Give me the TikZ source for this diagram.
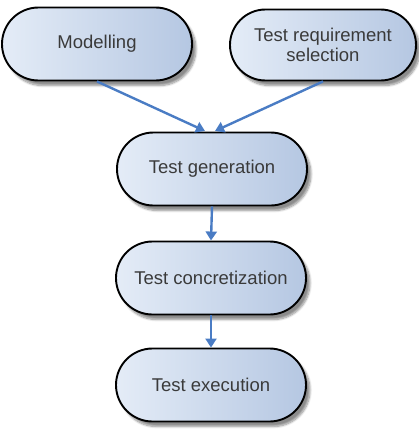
\documentclass[tikz,border=0pt]{standalone}
\usepackage{fontspec}
\setmainfont{Liberation Sans}
\usetikzlibrary{shapes.misc,arrows.meta,shadows.blur}
\definecolor{fillL}{HTML}{E4ECF7}
\definecolor{fillR}{HTML}{B5C7E2}
\definecolor{arrowblue}{HTML}{4A7CC4}
\definecolor{txt}{HTML}{3A3A3A}
\begin{document}
\begin{tikzpicture}[x=1pt,y=-1pt,
  stage/.style={rounded rectangle, draw=black, line width=1.9pt,
    left color=fillL, right color=fillR,
    minimum width=190pt, minimum height=73pt, inner sep=0pt,
    text=txt, font=\fontsize{18.5}{20.5}\selectfont, align=center,
    blur shadow={shadow xshift=4pt, shadow yshift=-5pt, shadow blur steps=8, shadow opacity=45}},
  flow/.style={draw=arrowblue, line width=2.4pt, -{Triangle[length=9pt,width=11pt]}}]
\useasboundingbox (0,0) rectangle (418,436);
\node[stage] (mod) at (97,44) {Modelling};
\node[stage, minimum width=186pt, minimum height=71pt] (req) at (323,45) {Test requirement\\selection};
\node[stage] (gen) at (212,169) {Test generation};
\node[stage] (con) at (211,278) {Test concretization};
\node[stage] (exe) at (211,385) {Test execution};
\coordinate (genL) at (205,131);
\coordinate (genR) at (215,131);
\draw[flow] (mod.south) -- (genL);
\draw[flow] (req.south) -- (genR);
\draw[flow] (gen.south) -- (con.north);
\draw[flow] (con.south) -- (exe.north);
\end{tikzpicture}
\end{document}
